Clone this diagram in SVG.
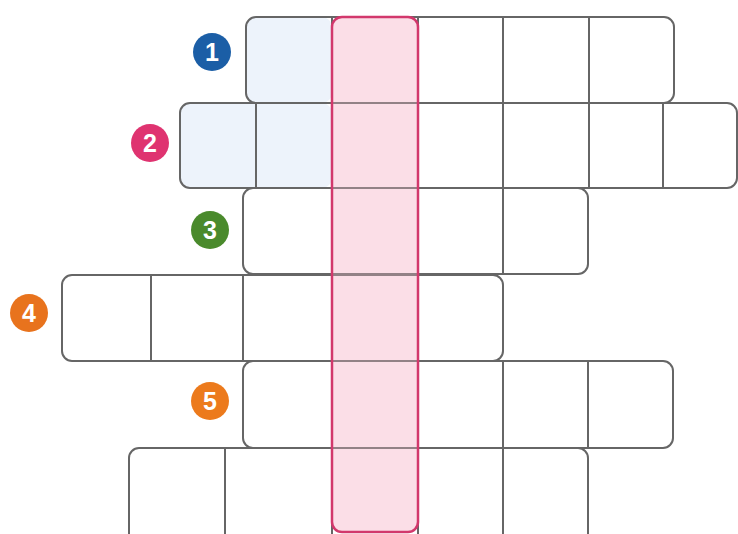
<svg xmlns="http://www.w3.org/2000/svg" width="738" height="534" viewBox="0 0 738 534">
<style>
.row{fill:none;stroke:#666666;stroke-width:2}
.ln{stroke:#666666;stroke-width:2}
.num{font-family:"Liberation Sans",Arial,sans-serif;font-weight:bold;font-size:25px;fill:#ffffff;text-anchor:middle}
.blue{fill:#edf3fb}
</style>
<rect width="738" height="534" fill="#ffffff"/>
<rect class="blue" x="246" y="17" width="86" height="86" rx="10"/>
<rect class="blue" x="180" y="103" width="152" height="85" rx="10"/>
<rect x="332" y="17" width="86" height="515" rx="10" fill="#fdebf1"/>
<g id="row1">
<rect class="row" x="246" y="17" width="428" height="86" rx="10"/>
<line class="ln" x1="332" y1="17" x2="332" y2="103"/><line class="ln" x1="418" y1="17" x2="418" y2="103"/><line class="ln" x1="503" y1="17" x2="503" y2="103"/><line class="ln" x1="589" y1="17" x2="589" y2="103"/>
</g>
<g id="row2">
<rect class="row" x="180" y="103" width="557" height="85" rx="10"/>
<line class="ln" x1="256" y1="103" x2="256" y2="188"/><line class="ln" x1="332" y1="103" x2="332" y2="188"/><line class="ln" x1="418" y1="103" x2="418" y2="188"/><line class="ln" x1="503" y1="103" x2="503" y2="188"/><line class="ln" x1="589" y1="103" x2="589" y2="188"/><line class="ln" x1="663" y1="103" x2="663" y2="188"/>
</g>
<g id="row3">
<rect class="row" x="243" y="188" width="345" height="86" rx="10"/>
<line class="ln" x1="332" y1="188" x2="332" y2="274"/><line class="ln" x1="418" y1="188" x2="418" y2="274"/><line class="ln" x1="503" y1="188" x2="503" y2="274"/>
</g>
<g id="row4">
<rect class="row" x="62" y="275" width="441" height="86" rx="10"/>
<line class="ln" x1="151" y1="275" x2="151" y2="361"/><line class="ln" x1="243" y1="275" x2="243" y2="361"/><line class="ln" x1="332" y1="275" x2="332" y2="361"/><line class="ln" x1="418" y1="275" x2="418" y2="361"/>
</g>
<g id="row5">
<rect class="row" x="243" y="361" width="430" height="87" rx="10"/>
<line class="ln" x1="332" y1="361" x2="332" y2="448"/><line class="ln" x1="418" y1="361" x2="418" y2="448"/><line class="ln" x1="503" y1="361" x2="503" y2="448"/><line class="ln" x1="588" y1="361" x2="588" y2="448"/>
</g>
<g id="row6">
<rect class="row" x="129" y="448" width="459" height="96" rx="10"/>
<line class="ln" x1="225" y1="448" x2="225" y2="534"/><line class="ln" x1="332" y1="448" x2="332" y2="534"/><line class="ln" x1="418" y1="448" x2="418" y2="534"/><line class="ln" x1="503" y1="448" x2="503" y2="534"/>
</g>
<g id="answer-column">
<rect x="332" y="17" width="86" height="515" rx="10" fill="#f7bfd1" fill-opacity="0.3" stroke="#d2386c" stroke-width="2.5"/>
</g>
<g id="labels">
<g id="n1"><circle cx="212" cy="52" r="19" fill="#1b5ea6"/><text class="num" x="212" y="61">1</text></g>
<g id="n2"><circle cx="150" cy="143" r="19" fill="#df3370"/><text class="num" x="150" y="152">2</text></g>
<g id="n3"><circle cx="210" cy="230" r="19" fill="#4a8a2c"/><text class="num" x="210" y="239">3</text></g>
<g id="n4"><circle cx="29" cy="313" r="19" fill="#e8731d"/><text class="num" x="29" y="322">4</text></g>
<g id="n5"><circle cx="210" cy="401" r="19" fill="#ec7a1c"/><text class="num" x="210" y="410">5</text></g>
</g>
</svg>
